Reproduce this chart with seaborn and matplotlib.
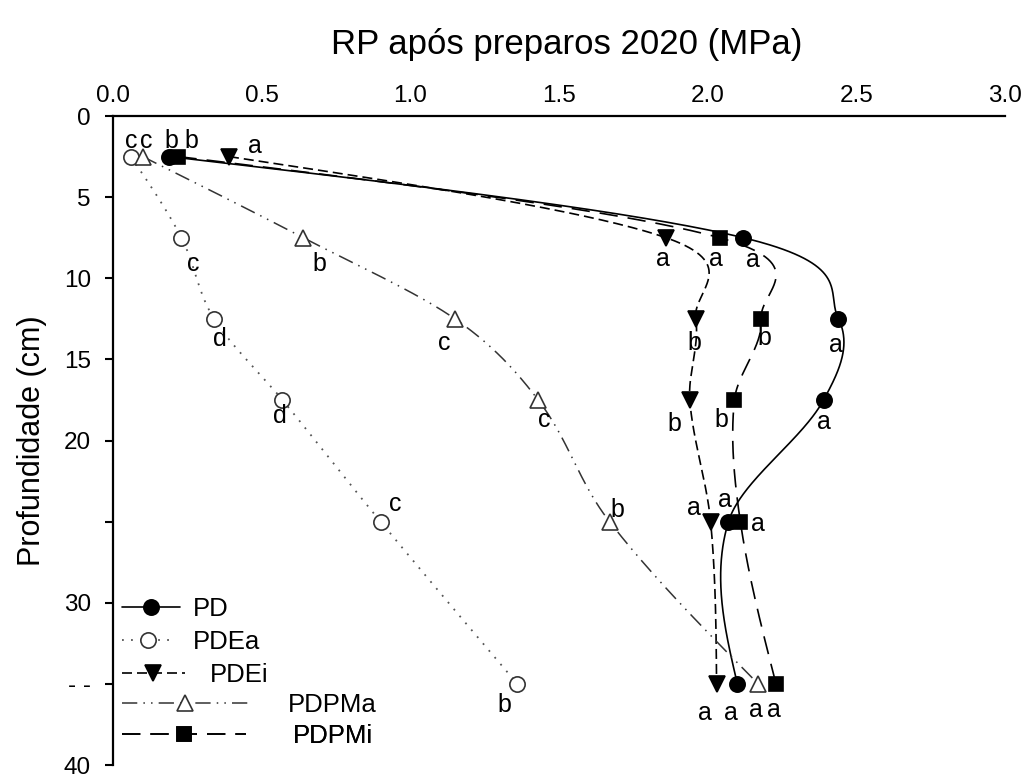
import numpy as np
import pandas as pd
import matplotlib
matplotlib.use("Agg")
import matplotlib.pyplot as plt
import seaborn as sns
from matplotlib.lines import Line2D

# ---------------- data ----------------
depth = [2.5, 7.5, 12.5, 17.5, 25, 35]
series_names = ["PD", "PDEa", "PDEi", "PDPMa", "PDPMi"]
pd_vals = [0.19, 2.12, 2.44, 2.39, 2.07, 2.10]
pdea_vals = [0.06, 0.23, 0.34, 0.57, 0.90, 1.36]
pdei_vals = [0.39, 1.86, 1.96, 1.94, 2.01, 2.03]
pdpma_vals = [0.10, 0.64, 1.15, 1.43, 1.67, 2.17]
pdpmi_vals = [0.22, 2.04, 2.18, 2.09, 2.11, 2.23]

pd_letters = ["b", "a", "a", "a", "a", "a"]
pdea_letters = ["c", "c", "d", "d", "c", "b"]
pdei_letters = ["a", "a", "b", "b", "a", "a"]
pdpma_letters = ["c", "b", "c", "c", "b", "a"]
pdpmi_letters = ["b", "a", "b", "b", "a", "a"]

x_ticks = [0.0, 0.5, 1.0, 1.5, 2.0, 2.5, 3.0]
x_ticklabels = ["0.0", "0.5", "1.0", "1.5", "2.0", "2.5", "3.0"]
y_ticks = [0, 5, 10, 15, 20, 25, 30, 35, 40]
y_ticklabels = ["0", "5", "10", "15", "20", "", "30", "- -", "40"]

title_text = "RP após preparos 2020 (MPa)"
ylabel_text = "Profundidade (cm)"

# ---------------- styles ----------------
styles = {
    "PD":    dict(dashes=None, marker="o", mfc="black", ms=11, lc="black", lw=1.2),
    "PDEa":  dict(dashes=(1, 4), marker="o", mfc="white", ms=11, lc="#555555", lw=1.3),
    "PDEi":  dict(dashes=(6, 3), marker="v", mfc="black", ms=11.5, lc="black", lw=1.2),
    "PDPMa": dict(dashes=(10, 4, 1, 4, 1, 4), marker="^", mfc="white", ms=11.5, lc="#333333", lw=1.1),
    "PDPMi": dict(dashes=(11, 6), marker="s", mfc="black", ms=10, lc="black", lw=1.2),
}
# letter offsets in pixels (dx right, dy down)
letter_offsets = {
    "PD":    [(2, -9), (10, 29), (-3, 33), (0, 29), (-4, -15), (-6, 36)],
    "PDEa":  [(0, -9), (12, 33), (6, 27), (-3, 23), (15, -11), (-13, 28)],
    "PDEi":  [(26, -4), (-3, 28), (-1, 31), (-15, 31), (-17, -7), (-12, 36)],
    "PDPMa": [(4, -9), (16, 33), (-11, 31), (6, 27), (8, -5), (-2, 33)],
    "PDPMi": [(13, -9), (-3.6, 28), (3, 26), (-13, 27), (18, 9), (-2, 33)],
}
# legend layout per entry: (row centre in axes fraction, handle length, text pad)
legend_layout = {
    "PD":    (0.240, 2.26, 0.50),
    "PDEa":  (0.190, 2.06, 0.70),
    "PDEi":  (0.138, 2.45, 0.97),
    "PDPMa": (0.092, 4.90, 1.56),
    "PDPMi": (0.045, 4.82, 1.83),
}

values = {"PD": pd_vals, "PDEa": pdea_vals, "PDEi": pdei_vals,
          "PDPMa": pdpma_vals, "PDPMi": pdpmi_vals}
letters = {"PD": pd_letters, "PDEa": pdea_letters, "PDEi": pdei_letters,
           "PDPMa": pdpma_letters, "PDPMi": pdpmi_letters}

sns.set_theme(style="white")
plt.rcParams["font.family"] = ["Liberation Sans", "DejaVu Sans"]
plt.rcParams["text.color"] = "black"
plt.rcParams["axes.labelcolor"] = "black"

fig = plt.figure(figsize=(10.32, 7.74), dpi=100)
ax = fig.add_axes([0.1095, 0.0116, 0.8643, 0.8385])


def hermite_curve(d, v, n=700):
    """Cardinal (Catmull-Rom style) Hermite curve of v as a function of depth d."""
    d = np.asarray(d, float)
    v = np.asarray(v, float)
    k = len(d)
    m = np.zeros(k)
    for i in range(1, k - 1):
        m[i] = (v[i + 1] - v[i - 1]) / (d[i + 1] - d[i - 1])
    s0 = (v[1] - v[0]) / (d[1] - d[0])
    s1 = (v[-1] - v[-2]) / (d[-1] - d[-2])
    m[0] = 1.5 * s0 - 0.5 * m[1]
    m[-1] = 1.5 * s1 - 0.5 * m[-2]
    dd = np.linspace(d[0], d[-1], n)
    out = np.empty(n)
    for j, x in enumerate(dd):
        i = min(max(np.searchsorted(d, x) - 1, 0), k - 2)
        h = d[i + 1] - d[i]
        s = (x - d[i]) / h
        h00 = 2 * s ** 3 - 3 * s ** 2 + 1
        h10 = s ** 3 - 2 * s ** 2 + s
        h01 = -2 * s ** 3 + 3 * s ** 2
        h11 = s ** 3 - s ** 2
        out[j] = h00 * v[i] + h10 * h * m[i] + h01 * v[i + 1] + h11 * h * m[i + 1]
    return out, dd


handles = {}
for name in series_names:
    st = styles[name]
    xs, ys = hermite_curve(depth, values[name])
    curve = pd.DataFrame({"x": xs, "y": ys})
    sns.lineplot(data=curve, x="x", y="y", sort=False, estimator=None, ax=ax,
                 color=st["lc"], lw=st["lw"], zorder=2)
    line = ax.lines[-1]
    if st["dashes"] is not None:
        line.set_dashes(st["dashes"])
    mec = "black" if st["mfc"] == "black" else "#333333"
    ax.plot(values[name], depth, ls="none", marker=st["marker"], ms=st["ms"],
            mfc=st["mfc"], mec=mec, mew=1.2, zorder=3)
    for xv, yv, lt, (dx, dy) in zip(values[name], depth, letters[name], letter_offsets[name]):
        ax.annotate(lt, (xv, yv), xytext=(dx, -dy), textcoords="offset pixels",
                    ha="center", va="baseline", fontsize=18, color="black", zorder=4)
    h = Line2D([], [], color=st["lc"], lw=st["lw"], marker=st["marker"], ms=st["ms"],
               mfc=st["mfc"], mec=mec, mew=1.2)
    if st["dashes"] is not None:
        h.set_dashes(st["dashes"])
    handles[name] = h

ax.set_xlim(0, 3.0)
ax.set_ylim(40, 0)

ax.xaxis.tick_top()
ax.xaxis.set_label_position("top")
ax.set_xticks(x_ticks)
ax.set_xticklabels(x_ticklabels)
ax.set_yticks(y_ticks)
ax.set_yticklabels(y_ticklabels)
ax.tick_params(axis="x", length=0, pad=6.5, labelsize=17.5, colors="black")
ax.tick_params(axis="y", direction="out", length=6, width=1.5, pad=10,
               labelsize=17.5, colors="black", left=True)

ax.set_xlabel(title_text, fontsize=25, labelpad=22, color="black")
ax.xaxis.label.set_x(0.509)
ax.set_ylabel(ylabel_text, fontsize=22, labelpad=12, color="black")

for side in ["right", "bottom"]:
    ax.spines[side].set_visible(False)
for side in ["top", "left"]:
    ax.spines[side].set_visible(True)
    ax.spines[side].set_color("black")
    ax.spines[side].set_linewidth(1.6)

# legend: one single-entry legend per row so each row keeps its own handle length
for name in series_names:
    yc, hl, tp = legend_layout[name]
    lg = ax.legend([handles[name]], [name], loc="center left", bbox_to_anchor=(0.010, yc),
                   frameon=False, fontsize=18.5, handlelength=hl, handletextpad=tp,
                   borderpad=0, borderaxespad=0, numpoints=1, labelcolor="black")
    ax.add_artist(lg)

fig.savefig("out.png", dpi=100, facecolor="white")
